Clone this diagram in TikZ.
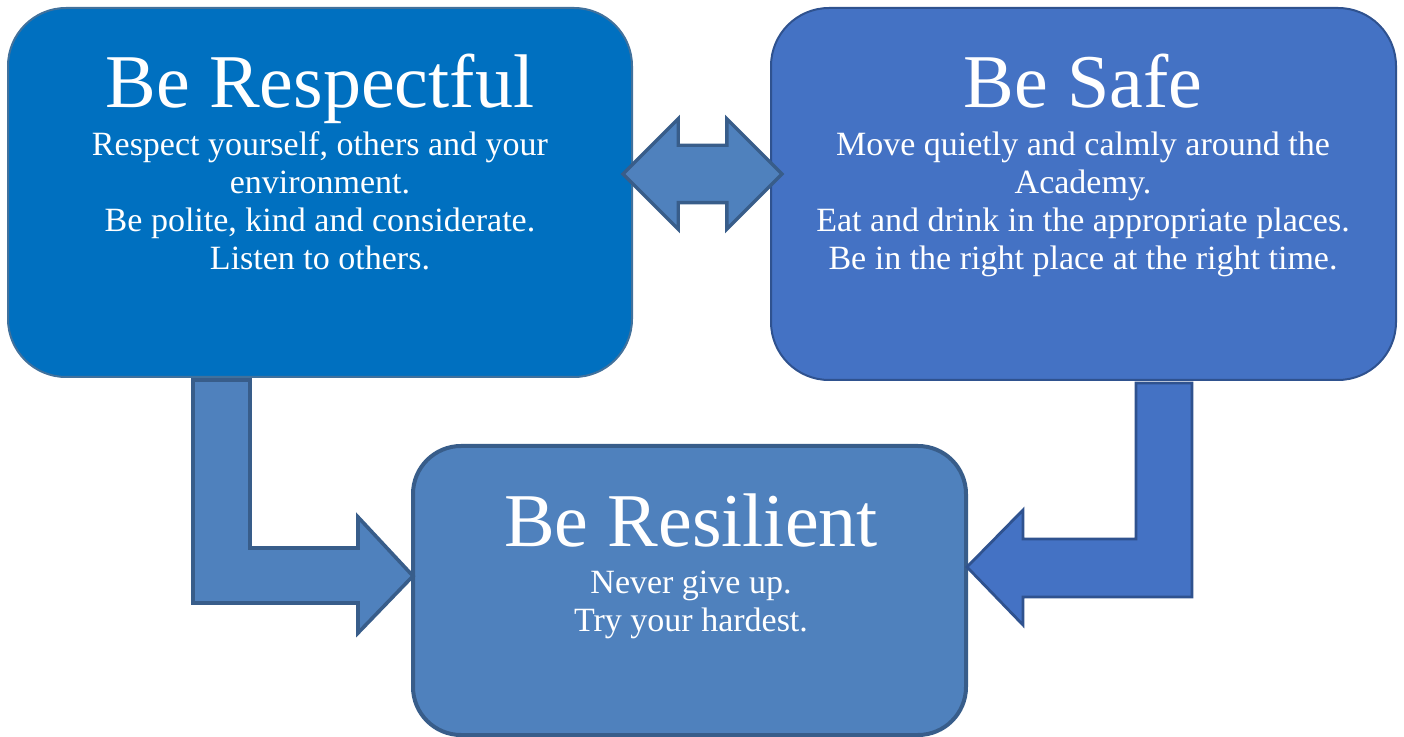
\documentclass[tikz,border=0pt]{standalone}
\usepackage{fontspec}
\setmainfont{Liberation Serif}
\usepackage{xcolor}
\usetikzlibrary{shapes.arrows, positioning}

\definecolor{respblue}{HTML}{0070C0}
\definecolor{respedge}{HTML}{41719C}
\definecolor{safeblue}{HTML}{4472C4}
\definecolor{safeedge}{HTML}{2F528F}
\definecolor{resblue}{HTML}{4F81BD}
\definecolor{resedge}{HTML}{385D8A}

\begin{document}
\begin{tikzpicture}[x=0.5pt, y=-0.5pt,
    rulebox/.style={draw, rounded corners=29pt, inner sep=0pt},
    headline/.style={white, anchor=base, inner sep=0pt, font=\fontsize{38}{44}\selectfont},
    bodytext/.style={white, anchor=north, inner sep=0pt, align=center, font=\fontsize{17}{19}\selectfont},
    blockarrow/.style={line width=1.8pt, line join=miter}]
    \useasboundingbox (0,0) rectangle (1404,737);

    % Boxes
    \node[rulebox, fill=respblue, draw=respedge, line width=1pt,
          minimum width=312pt, minimum height=184.5pt] (respect) at (320,192.5) {};
    \node[rulebox, fill=safeblue, draw=safeedge, line width=1pt,
          minimum width=312.5pt, minimum height=186pt] (safe) at (1083.5,194) {};
    \node[rulebox, rounded corners=24pt, fill=resblue, draw=resedge, line width=2pt,
          minimum width=276.5pt, minimum height=144.5pt] (resilient) at (689.5,590.5) {};

    % Texts
    \node[headline] (respectT) at (320,108) {Be Respectful};
    \node[bodytext] (respectB) at (320,128.4) {\strut Respect yourself, others and your\\
        environment.\\ Be polite, kind and considerate.\\ Listen to others.};
    \node[headline] (safeT) at (1083,108) {Be Safe};
    \node[bodytext] (safeB) at (1083,128.4) {\strut Move quietly and calmly around the\\
        Academy.\\ Eat and drink in the appropriate places.\\ Be in the right place at the right time.};
    \node[headline] (resilientT) at (691,547) {Be Resilient};
    \node[bodytext] (resilientB) at (691,566.4) {\strut Never give up.\\ Try your hardest.};

    % Double arrow between the top boxes
    \node[double arrow, draw=resedge, fill=resblue, line width=1.7pt,
          inner xsep=0pt, inner ysep=13.5pt,
          minimum height=79.5pt, double arrow head extend=13.25pt]
          (link) at (702.5,174) {};

    % L-shaped arrows into the bottom box
    \coordinate (leftTip) at (413,576);
    \coordinate (rightTip) at (967,567);
    \draw[blockarrow, draw=resedge, fill=resblue]
        (193,380) -- (250,380) -- (250,548) -- (358,548) -- (358,517) -- (leftTip)
        -- (358,633) -- (358,603) -- (193,603) -- cycle;
    \draw[blockarrow, draw=safeedge, fill=safeblue, line width=1.4pt]
        (1136,383) -- (1192,383) -- (1192,597) -- (1023,597) -- (1023,625) -- (rightTip)
        -- (1023,510) -- (1023,539) -- (1136,539) -- cycle;
\end{tikzpicture}
\end{document}
